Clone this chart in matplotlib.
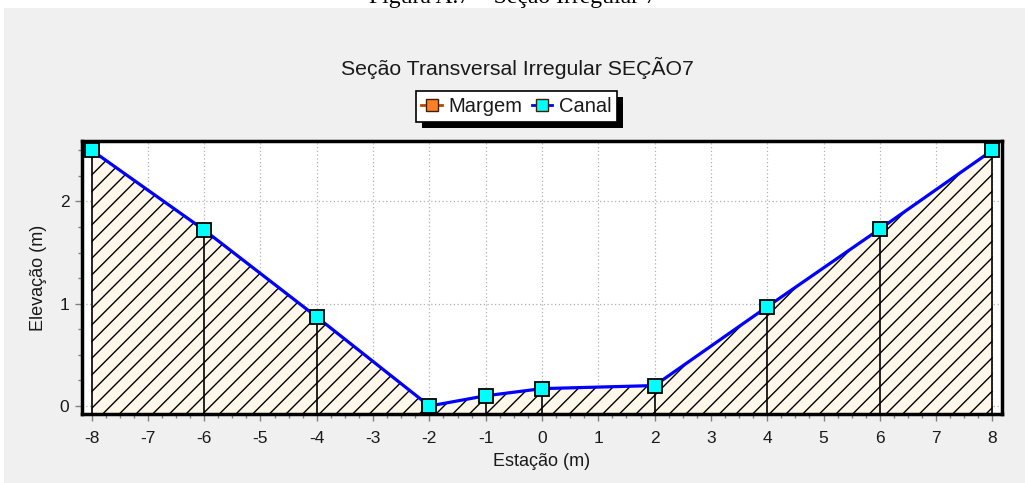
import matplotlib
matplotlib.use("Agg")
import matplotlib.pyplot as plt
from matplotlib.lines import Line2D
from matplotlib.patches import Rectangle
from matplotlib.ticker import MultipleLocator

# Cross-section survey: station (m) and elevation (m)
estacao = [-8, -6, -4, -2, -1, 0, 2, 4, 6, 8]
elevacao = [2.50, 1.72, 0.87, 0.00, 0.10, 0.17, 0.20, 0.97, 1.73, 2.50]
xticks = [-8, -7, -6, -5, -4, -3, -2, -1, 0, 1, 2, 3, 4, 5, 6, 7, 8]
yticks = [0, 1, 2]

titulo = "Seção Transversal Irregular SEÇÃO7"
legenda = ["Margem", "Canal"]
legenda_cores = ["#FF7F27", "#00FFFF"]
legenda_linhas = ["#B34A00", "#0000FF"]
legenda_titulo_fig = "Figura A.7 – Seção Irregular 7"

plt.rcParams["font.family"] = ["Liberation Sans", "DejaVu Sans"]
plt.rcParams["hatch.linewidth"] = 1.0
plt.rcParams["axes.unicode_minus"] = False

W, H = 1025, 483
fig = plt.figure(figsize=(W / 100, H / 100), dpi=100, facecolor="white")

# gray panel behind the chart
fig.patches.append(Rectangle((4 / W, 0), 1 - 4 / W, 1 - 8 / H,
                             transform=fig.transFigure, facecolor="#F0F0F0",
                             edgecolor="none", zorder=-10))

fig.text(0.5, 1 - 3 / H, legenda_titulo_fig, ha="center", va="baseline",
         fontsize=17, family=["Liberation Serif", "DejaVu Serif"], color="black")

ax = fig.add_axes([82 / W, 1 - 414 / H, (1002 - 82) / W, (414 - 141) / H])
ax.set_facecolor("white")

ybot, ytop = -0.078, 2.59
ax.set_xlim(-8.17, 8.17)
ax.set_ylim(ybot, ytop)

ax.fill_between(estacao, elevacao, ybot, facecolor="#FFF8EA", edgecolor="black",
                hatch="//", linewidth=0, zorder=2)
ax.vlines(estacao, ybot, elevacao, colors="black", linewidth=1.2, zorder=3)
ax.plot(estacao, elevacao, color="#0000FF", linewidth=2.3, zorder=4,
        marker="s", markersize=10.5, markerfacecolor="#00FFFF",
        markeredgecolor="black", markeredgewidth=1.3, clip_on=False)

ax.set_xticks(xticks)
ax.set_yticks(yticks)
ax.xaxis.set_minor_locator(MultipleLocator(0.25))
ax.yaxis.set_minor_locator(MultipleLocator(0.25))
ax.grid(True, which="major", color="#B0B0B0", linestyle=(0, (1, 2)),
        linewidth=0.9, zorder=1)
ax.set_axisbelow(True)
ax.tick_params(which="major", direction="out", length=5, width=1,
               color="#808080", labelsize=12.5, labelcolor="#1A1A1A")
ax.tick_params(axis="x", which="major", pad=7)
ax.tick_params(axis="y", which="major", pad=4)
ax.tick_params(which="minor", direction="out", length=3, width=1,
               color="#808080")
for s in ax.spines.values():
    s.set_linewidth(2.5)
    s.set_color("black")
    s.set_zorder(5)

ax.set_xlabel("Estação (m)", fontsize=13, color="#1A1A1A", labelpad=5)
ax.set_ylabel("Elevação (m)", fontsize=13, color="#1A1A1A", labelpad=9)

fig.text(517 / W, 1 - 68 / H, titulo, ha="center", va="center", fontsize=15.3,
         color="#1A1A1A")

handles = [Line2D([0], [0], color=lc, linewidth=2, marker="s", markersize=8,
                  markerfacecolor=fc, markeredgecolor="#402000",
                  markeredgewidth=1.0)
           for fc, lc in zip(legenda_cores, legenda_linhas)]
leg = fig.legend(handles, legenda, loc="center", bbox_to_anchor=(516.5 / W, 1 - 106.5 / H),
                 ncol=2, frameon=True, fancybox=False, fontsize=14.5, framealpha=1,
                 handlelength=1.0, handletextpad=0.35, columnspacing=0.45,
                 borderpad=0.28, borderaxespad=0)
leg.get_frame().set_edgecolor("black")
leg.get_frame().set_linewidth(1.2)
leg.get_frame().set_facecolor("white")
leg.set_zorder(6)
for t in leg.get_texts():
    t.set_color("#1A1A1A")

# drop shadow under the legend box
fig.canvas.draw()
bb = leg.get_window_extent()
fig.patches.append(Rectangle(((bb.x0 + 6) / W, (bb.y0 - 6) / H), bb.width / W, bb.height / H,
                             transform=fig.transFigure, facecolor="black",
                             edgecolor="none", zorder=1))

fig.savefig("out.png", dpi=100, facecolor="white")
